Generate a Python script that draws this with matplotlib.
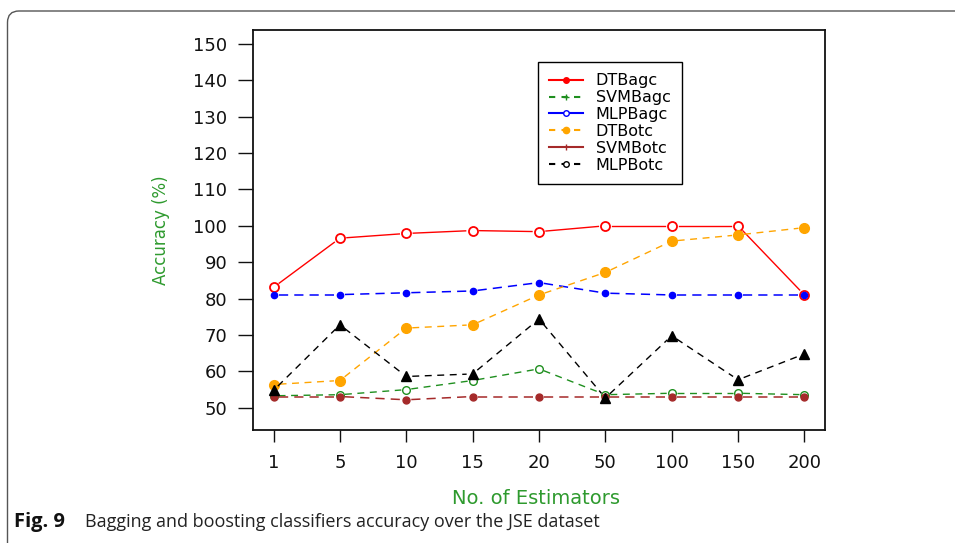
import matplotlib
matplotlib.use("Agg")
import numpy as np
import matplotlib.pyplot as plt
from matplotlib.lines import Line2D
from matplotlib.patches import FancyBboxPatch

categories = ["1", "5", "10", "15", "20", "50", "100", "150", "200"]
dt_bagc = [83.1, 96.6, 97.9, 98.7, 98.4, 100.0, 100.0, 100.0, 81.0]
svm_bagc = [53.3, 53.6, 55.0, 57.5, 60.7, 53.6, 54.0, 54.0, 53.6]
mlp_bagc = [81.1, 81.1, 81.6, 82.1, 84.4, 81.5, 81.0, 81.0, 81.0]
dt_botc = [56.4, 57.5, 71.9, 72.8, 81.0, 87.2, 95.8, 97.5, 99.5]
svm_botc = [53.1, 53.1, 52.2, 53.1, 53.1, 53.1, 53.1, 53.1, 53.1]
mlp_botc = [54.8, 72.8, 58.6, 59.3, 74.4, 52.7, 69.8, 57.7, 64.8]
yticks = [50, 60, 70, 80, 90, 100, 110, 120, 130, 140, 150]

W, H = 955, 543
fig = plt.figure(figsize=(W / 100, H / 100), dpi=100)
fig.patch.set_facecolor("white")

# outer rounded frame
frame = FancyBboxPatch((7.5 / W, -20 / H), (W + 40) / W, (H - 11 + 20) / H,
                       boxstyle="round,pad=0,rounding_size=0.012",
                       transform=fig.transFigure, fill=False,
                       edgecolor="#555555", linewidth=1.0, mutation_aspect=W / H)
fig.patches.append(frame)

left, right, top, bottom = 253 / W, 825 / W, 30 / H, 430 / H
ax = fig.add_axes([left, 1 - bottom, right - left, bottom - top])
ax.set_xlim(0.69, 9.31)
ax.set_ylim(43.9, 153.8)

x = list(range(1, len(categories) + 1))


def plot_b(xs, ys, color, ls, lw, gap, **mk):
    """R type='b': line segments stop short of the points."""
    T = ax.transData
    pts = T.transform(np.column_stack([xs, ys]))
    inv = T.inverted()
    for p0, p1 in zip(pts[:-1], pts[1:]):
        d = p1 - p0
        L = np.hypot(*d)
        if L <= 2 * gap:
            continue
        u = d / L
        a, b = inv.transform([p0 + u * gap, p1 - u * gap])
        ax.plot([a[0], b[0]], [a[1], b[1]], color=color, linestyle=ls, linewidth=lw)
    ax.plot(xs, ys, linestyle="none", **mk)


plot_b(x, dt_bagc, "red", "-", 1.0, 7,
       marker="o", markersize=6.5, markerfacecolor="white", markeredgecolor="red", markeredgewidth=1.3)
plot_b(x, svm_bagc, "#1f8f1f", (0, (5, 4)), 1.0, 5,
       marker="o", markersize=5.5, markerfacecolor="none", markeredgecolor="#1f8f1f", markeredgewidth=1.0)
plot_b(x, mlp_bagc, "blue", (0, (6, 4)), 1.1, 5,
       marker="o", markersize=4.5, markerfacecolor="blue", markeredgecolor="blue")
plot_b(x, dt_botc, "orange", (0, (5, 4)), 1.0, 6,
       marker="o", markersize=7, markerfacecolor="orange", markeredgecolor="orange")
plot_b(x, svm_botc, "#a52a2a", (0, (6, 4)), 1.1, 5,
       marker="o", markersize=5, markerfacecolor="#a52a2a", markeredgecolor="#a52a2a")
plot_b(x, mlp_botc, "black", (0, (5, 4)), 1.0, 6,
       marker="^", markersize=7, markerfacecolor="black", markeredgecolor="black")

ax.set_xticks(x)
ax.set_xticklabels(categories)
ax.set_yticks(yticks)
for s in ax.spines.values():
    s.set_linewidth(1.3)
    s.set_color("#111111")
ax.tick_params(axis="y", length=10.5, width=1.0, pad=8, labelsize=13, colors="#111111")
ax.tick_params(axis="x", length=8.5, width=1.0, pad=9, labelsize=13, colors="#111111")
for lbl in ax.get_xticklabels() + ax.get_yticklabels():
    lbl.set_fontfamily("DejaVu Sans")

green = "#2e9a2e"
fig.text(161 / W, 1 - 230 / H, "Accuracy (%)", rotation=90, ha="center", va="center",
         color=green, fontsize=12, fontfamily="DejaVu Sans")
fig.text(536 / W, 1 - 498 / H, "No. of Estimators", ha="center", va="center",
         color=green, fontsize=14, fontfamily="DejaVu Sans")

fig.text(14 / W, 1 - 522 / H, "Fig. 9", ha="left", va="center", fontsize=14.5,
         fontweight="bold", fontfamily="Open Sans", color="#111111")
fig.text(85 / W, 1 - 522 / H, "Bagging and boosting classifiers accuracy over the JSE dataset",
         ha="left", va="center", fontsize=13, fontfamily="Open Sans", color="#222222")

handles = [
    Line2D([], [], color="red", linestyle="-", marker="o", markersize=4, markerfacecolor="red"),
    Line2D([], [], color="#1f8f1f", linestyle=(0, (3, 3)), marker="+", markersize=5),
    Line2D([], [], color="blue", linestyle="-", marker="o", markersize=4, markerfacecolor="white"),
    Line2D([], [], color="orange", linestyle=(0, (3, 3)), marker="o", markersize=4.5, markerfacecolor="orange"),
    Line2D([], [], color="#a52a2a", linestyle="-", marker="|", markersize=5),
    Line2D([], [], color="black", linestyle=(0, (3, 3)), marker="o", markersize=4, markerfacecolor="white"),
]
labels = ["DTBagc", "SVMBagc", "MLPBagc", "DTBotc", "SVMBotc", "MLPBotc"]
leg = ax.legend(handles, labels, loc="upper left",
                bbox_to_anchor=(538 / W, 1 - 62 / H), bbox_transform=fig.transFigure,
                fancybox=False, edgecolor="black", framealpha=1,
                prop={"family": "DejaVu Sans", "size": 11.5},
                handlelength=2.1, handletextpad=0.8, labelspacing=0.12,
                borderpad=0.7, borderaxespad=0)
leg.get_frame().set_linewidth(1.0)

fig.savefig("out.png", dpi=100)
